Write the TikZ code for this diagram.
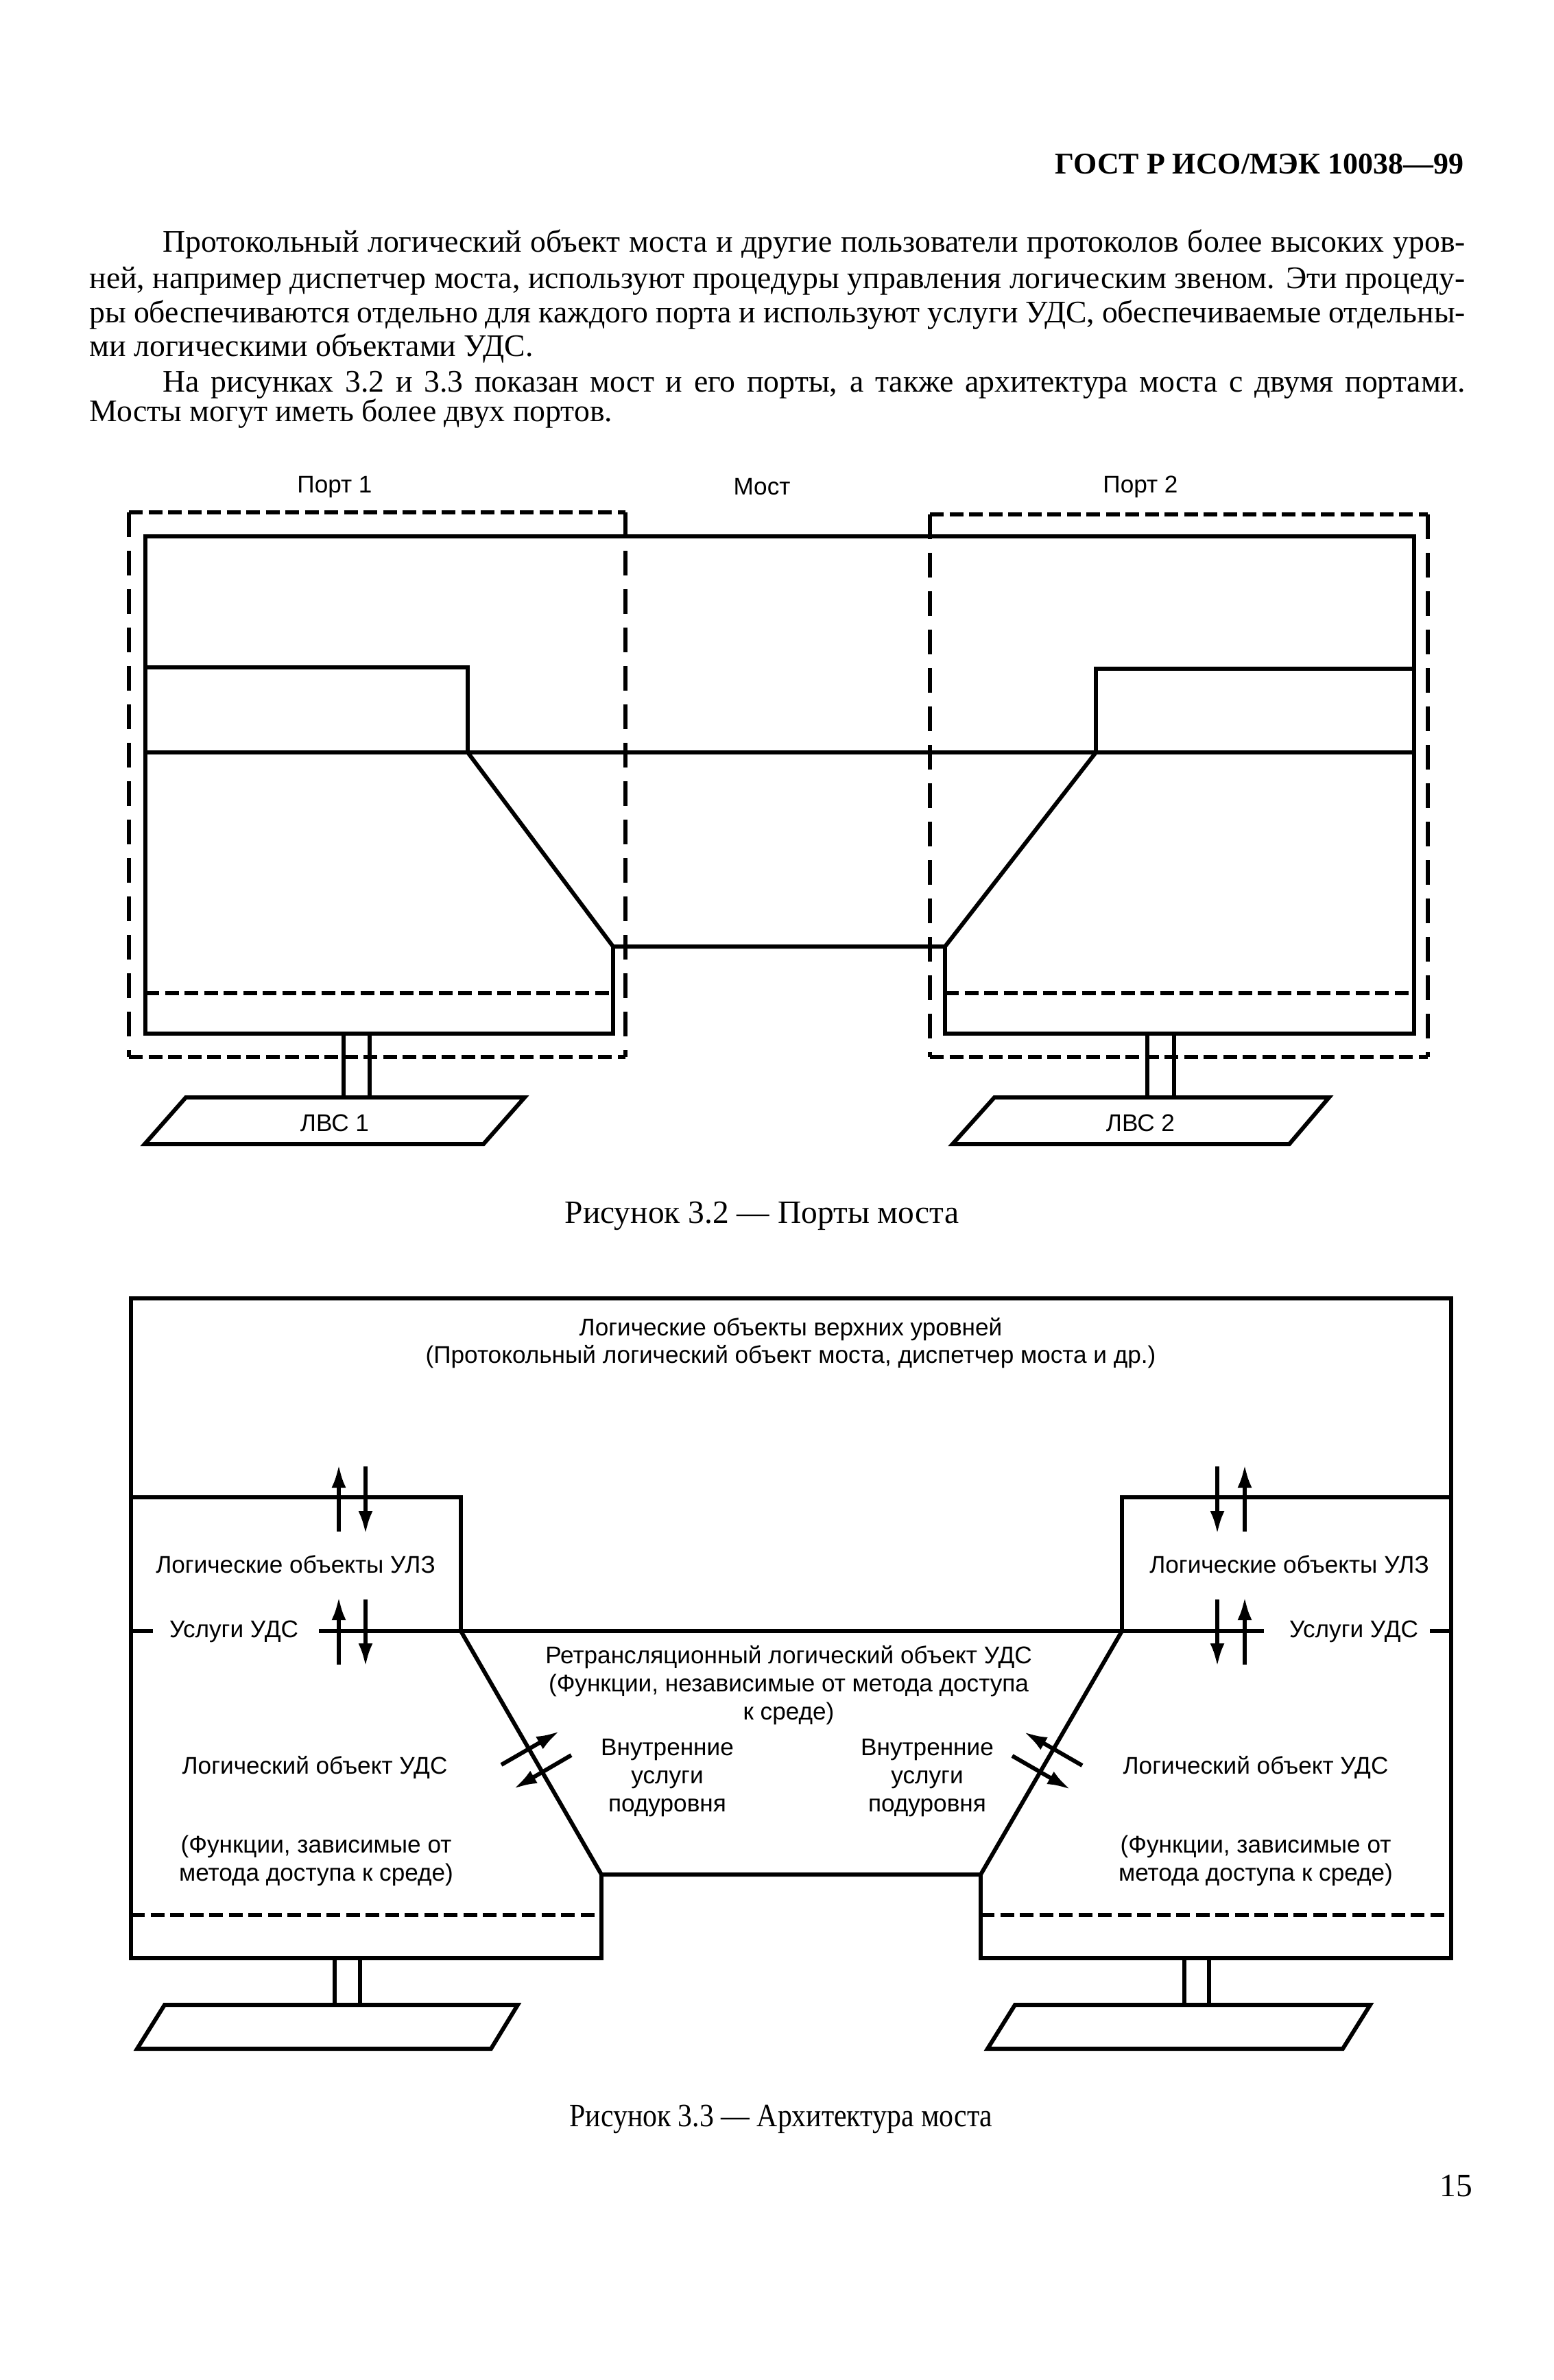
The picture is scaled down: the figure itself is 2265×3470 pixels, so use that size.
\documentclass[tikz,border=0pt]{standalone}
\usepackage{fontspec}
\setmainfont{Liberation Serif}
\setsansfont{Liberation Sans}
\usetikzlibrary{arrows.meta}
\tikzset{
  bodytxt/.style = {anchor=base west, inner sep=0pt, font=\fontsize{13}{14}\selectfont},
  headtxt/.style = {anchor=base east, inner sep=0pt, font=\fontsize{12.5}{14}\selectfont\bfseries},
  captxt/.style = {anchor=base, inner sep=0pt, font=\fontsize{13.5}{14}\selectfont},
  lbl/.style = {inner sep=0pt, align=center, font=\sffamily\fontsize{10}{11.6}\selectfont},
  wall/.style = {line width=1.7pt, line join=miter},
  hdash/.style = {line width=1.7pt, dash pattern=on 0.2cm off 0.085cm},
  vdash/.style = {line width=1.7pt, dash pattern=on 0.36cm off 0.2cm},
  flow/.style = {line width=1.7pt, -{Latex[length=0.34cm,width=0.21cm]}}
}

\begin{document}
\begin{tikzpicture}[x=0.01cm, y=-0.01cm]
\useasboundingbox (0,0) rectangle (2265,3470);

\node [headtxt] (head) at (2135,254) {ГОСТ Р ИСО/МЭК 10038—99};

\node [bodytxt] (p1a) at (237,367) {\makebox[18.98cm][s]{Протокольный логический объект моста и другие пользователи протоколов более высоких уров-}};
\node [bodytxt] (p1b) at (130,421) {\makebox[20.05cm][s]{ней, например диспетчер моста, используют процедуры управления логическим звеном. Эти процеду-}};
\node [bodytxt] (p1c) at (130,470) {\makebox[20.05cm][s]{ры обеспечиваются отдельно для каждого порта и используют услуги УДС, обеспечиваемые отдельны-}};
\node [bodytxt] (p1d) at (130,519) {ми логическими объектами УДС.};
\node [bodytxt] (p2a) at (237,571) {\makebox[18.98cm][s]{На рисунках 3.2 и 3.3 показан мост и его порты, а также архитектура моста с двумя портами.}};
\node [bodytxt] (p2b) at (130,614) {Мосты могут иметь более двух портов.};

% fig 3.2
\node [lbl] (port1) at (488,710) {Порт 1};
\node [lbl] (most) at (1111,710) {Мост};
\node [lbl] (port2) at (1663,710) {Порт 2};

\draw [hdash] (188,747) -- (912,747);
\draw [hdash] (188,1541) -- (912,1541);
\draw [vdash] (188,747) -- (188,1541);
\draw [vdash] (912,747) -- (912,1541);
\draw [hdash] (1356,750) -- (2082,750);
\draw [hdash] (1356,1541) -- (2082,1541);
\draw [vdash] (1356,750) -- (1356,1541);
\draw [vdash] (2082,750) -- (2082,1541);

\draw [wall] (894,1380) -- (894,1507) -- (212,1507) -- (212,782) -- (2062,782)
  -- (2062,1507) -- (1378,1507) -- (1378,1380);
\draw [wall] (682,1097) -- (894,1380) -- (1378,1380) -- (1598,1097);
\draw [wall] (212,973) -- (682,973) -- (682,1097);
\draw [wall] (2062,975) -- (1598,975) -- (1598,1097);
\draw [wall] (212,1097) -- (2062,1097);
\draw [hdash] (212,1448) -- (894,1448);
\draw [hdash] (1378,1448) -- (2062,1448);

\draw [wall] (501,1507) -- (501,1600);
\draw [wall] (539,1507) -- (539,1600);
\draw [wall] (1673,1507) -- (1673,1600);
\draw [wall] (1712,1507) -- (1712,1600);
\draw [wall] (271,1600) -- (765,1600) -- (705,1668) -- (211,1668) -- cycle;
\draw [wall] (1450,1600) -- (1938,1600) -- (1880,1668) -- (1389,1668) -- cycle;
\node [lbl] (lan1) at (488,1637) {ЛВС 1};
\node [lbl] (lan2) at (1663,1637) {ЛВС 2};

\node [captxt] (cap2) at (1111,1783) {Рисунок 3.2 — Порты моста};

% fig 3.3
\draw [wall] (877,2733) -- (877,2855) -- (191,2855) -- (191,1893) -- (2116,1893)
  -- (2116,2855) -- (1430,2855) -- (1430,2733);
\draw [wall] (672,2378) -- (877,2733) -- (1430,2733) -- (1636,2378);
\draw [wall] (191,2183) -- (672,2183) -- (672,2378);
\draw [wall] (2116,2183) -- (1636,2183) -- (1636,2378);
\draw [wall] (191,2378) -- (223,2378);
\draw [wall] (465,2378) -- (1843,2378);
\draw [wall] (2085,2378) -- (2116,2378);
\draw [hdash] (191,2792) -- (877,2792);
\draw [hdash] (1430,2792) -- (2116,2792);

\draw [wall] (488,2855) -- (488,2923);
\draw [wall] (525,2855) -- (525,2923);
\draw [wall] (1727,2855) -- (1727,2923);
\draw [wall] (1763,2855) -- (1763,2923);
\draw [wall] (240,2923) -- (755,2923) -- (716,2987) -- (200,2987) -- cycle;
\draw [wall] (1480,2923) -- (1998,2923) -- (1958,2987) -- (1440,2987) -- cycle;

\node [lbl] (upper) at (1153,1958) {Логические объекты верхних уровней\\(Протокольный логический объект моста, диспетчер моста и др.)};
\node [lbl] (ulzL) at (431,2281) {Логические объекты УЛЗ};
\node [lbl] (ulzR) at (1880,2281) {Логические объекты УЛЗ};
\node [lbl] (srvL) at (341,2379) {Услуги УДС};
\node [lbl] (srvR) at (1974,2379) {Услуги УДС};
\node [lbl] (relay) at (1150,2457) {Ретрансляционный логический объект УДС\\(Функции, независимые от метода доступа\\к среде)};
\node [lbl] (innerL) at (973,2592) {Внутренние\\услуги\\подуровня};
\node [lbl] (innerR) at (1352,2592) {Внутренние\\услуги\\подуровня};
\node [lbl] (macL) at (459,2577) {Логический объект УДС};
\node [lbl] (macR) at (1831,2577) {Логический объект УДС};
\node [lbl] (fnL) at (461,2713) {(Функции, зависимые от\\метода доступа к среде)};
\node [lbl] (fnR) at (1831,2713) {(Функции, зависимые от\\метода доступа к среде)};

\coordinate (luA0) at (494,2233); \coordinate (luA1) at (494,2135);
\coordinate (luB0) at (533,2138); \coordinate (luB1) at (533,2237);
\coordinate (llA0) at (494,2427); \coordinate (llA1) at (494,2328);
\coordinate (llB0) at (533,2332); \coordinate (llB1) at (533,2430);
\coordinate (ruA0) at (1775,2138); \coordinate (ruA1) at (1775,2237);
\coordinate (ruB0) at (1815,2233); \coordinate (ruB1) at (1815,2135);
\coordinate (rlA0) at (1775,2332); \coordinate (rlA1) at (1775,2430);
\coordinate (rlB0) at (1815,2427); \coordinate (rlB1) at (1815,2328);
\coordinate (iA0) at (731,2573); \coordinate (iA1) at (816,2524);
\coordinate (iB0) at (833,2559); \coordinate (iB1) at (749,2608);
\coordinate (iC0) at (1578,2574); \coordinate (iC1) at (1493,2525);
\coordinate (iD0) at (1476,2560); \coordinate (iD1) at (1561,2609);

\draw [flow] (luA0) -- (luA1);
\draw [flow] (luB0) -- (luB1);
\draw [flow] (llA0) -- (llA1);
\draw [flow] (llB0) -- (llB1);
\draw [flow] (ruA0) -- (ruA1);
\draw [flow] (ruB0) -- (ruB1);
\draw [flow] (rlA0) -- (rlA1);
\draw [flow] (rlB0) -- (rlB1);
\draw [flow] (iA0) -- (iA1);
\draw [flow] (iB0) -- (iB1);
\draw [flow] (iC0) -- (iC1);
\draw [flow] (iD0) -- (iD1);

\node [captxt] (cap3) at (1139,3100) {\scalebox{0.88}[1]{Рисунок 3.3 — Архитектура моста}};
\node [captxt] (pgno) at (2123,3202) {15};
\end{tikzpicture}
\end{document}
